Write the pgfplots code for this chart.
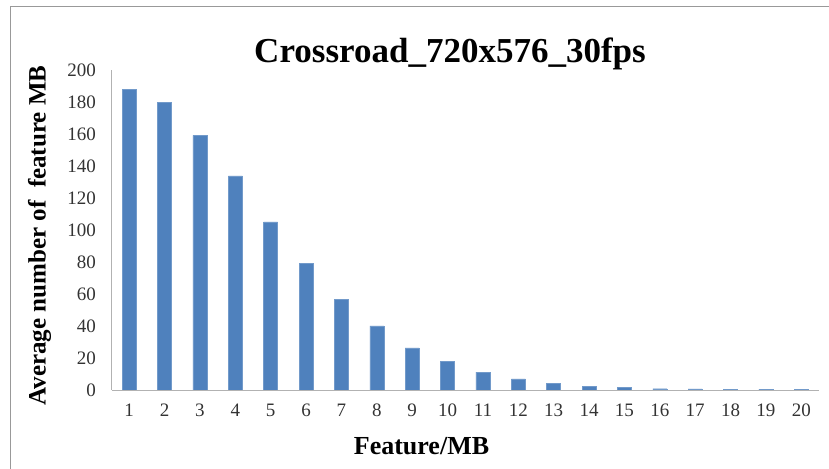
\documentclass[border=0pt]{standalone}
\usepackage{pgfplots}
\pgfplotsset{compat=1.18}
\usepackage{fontspec}
\setmainfont{Liberation Serif}
\definecolor{barblue}{HTML}{4F81BD}
\begin{document}
\begin{tikzpicture}
\useasboundingbox (0,0) rectangle (829pt,468pt);
\draw[color=black!40, line width=1.5pt] (10.5pt,-5pt) -- (10.5pt,461.5pt) -- (840pt,461.5pt);
\begin{axis}[
  at={(111.5pt,78pt)}, anchor=south west,
  scale only axis, width=707.5pt, height=320pt,
  xmin=0.5, xmax=20.5, ymin=0, ymax=200,
  axis x line*=bottom, axis y line*=left,
  axis line style={draw=black!30, line width=0.8pt},
  ytick={0,20,...,200}, xtick={1,...,20},
  major tick length=0pt,
  tick label style={font=\fontsize{19}{19}\selectfont, text=black!80},
  /pgf/number format/assume math mode=true,
  yticklabel style={xshift=-12pt},
  xticklabel style={yshift=-10.5pt},
  ybar, bar width=14pt,
]
\addplot[fill=barblue, draw=barblue!80] coordinates {
(1,188) (2,179.6) (3,159.2) (4,133.8) (5,105) (6,79.2) (7,56.7) (8,40)
(9,26.4) (10,17.7) (11,11.2) (12,6.9) (13,4) (14,2.3) (15,1.5)
(16,0.8) (17,0.7) (18,0.6) (19,0.6) (20,0.6)};
\end{axis}
\node[anchor=base, font=\fontsize{35}{35}\selectfont\bfseries] at (450pt,405.3pt) {Crossroad\_720x576\_30fps};
\node[anchor=base, rotate=90, font=\fontsize{25}{25}\selectfont\bfseries] at (45.5pt,232.5pt) {Average number of\ \ feature MB};
\node[anchor=base, font=\fontsize{26}{26}\selectfont\bfseries] at (421.5pt,13pt) {Feature/MB};
\end{tikzpicture}
\end{document}
